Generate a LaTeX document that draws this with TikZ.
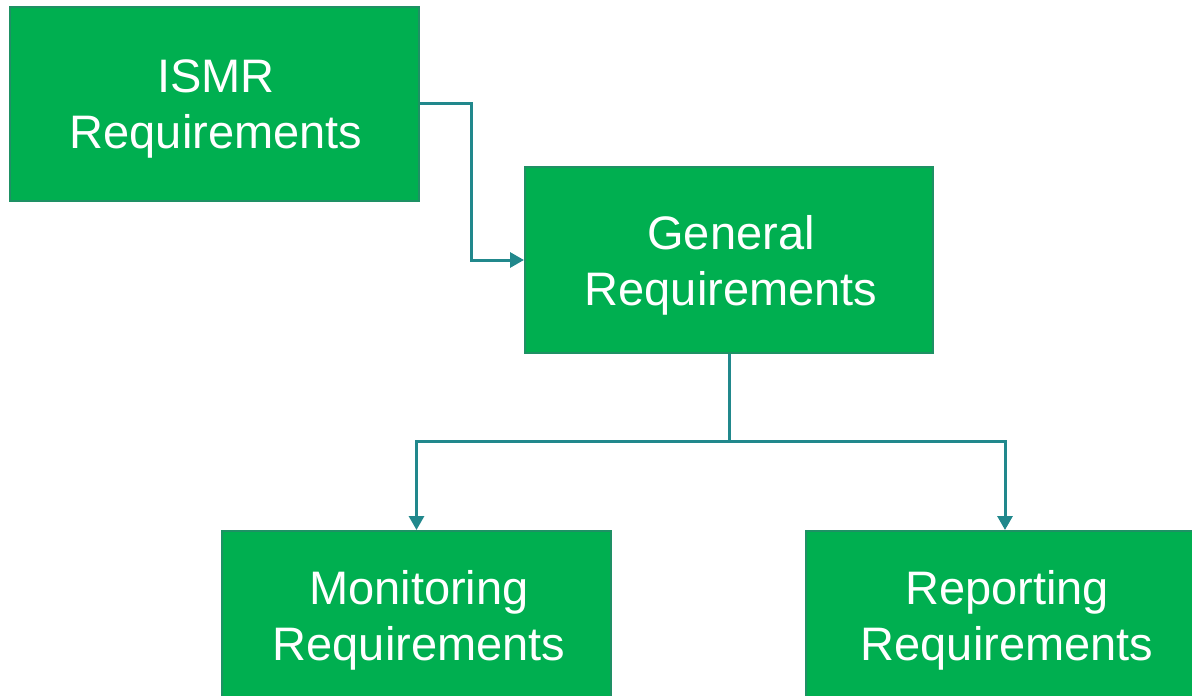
\documentclass[tikz,border=0pt]{standalone}
\usepackage{fontspec}
\setmainfont{Liberation Sans}
\usetikzlibrary{arrows.meta}
\definecolor{boxfill}{HTML}{00AF50}
\definecolor{boxline}{HTML}{1E9164}
\definecolor{linkcol}{HTML}{21888C}
\begin{document}
\begin{tikzpicture}[x=1pt,y=-1pt,
  reqbox/.style={draw=boxline, line width=2pt, fill=boxfill, inner sep=0pt},
  reqtext/.style={text=white, align=center, inner sep=0pt, anchor=base,
    font=\fontsize{47}{56}\selectfont},
  link/.style={draw=linkcol, line width=3pt,
    -{Triangle[length=14pt,width=15pt]}}]
  \useasboundingbox (0,0) rectangle (1192,696);
  \begin{scope}
    \clip (0,0) rectangle (1192,696);
    % the four requirement boxes
    \node[reqbox, minimum width=409pt, minimum height=194pt] (ismr) at (214.5,104) {};
    \node[reqbox, minimum width=408pt, minimum height=186pt] (gen) at (729,260) {};
    \node[reqbox, minimum width=389pt, minimum height=200pt, anchor=north] (mon) at (416.5,530) {};
    \node[reqbox, minimum width=398pt, minimum height=200pt, anchor=north] (rep) at (1005,530) {};
    % their labels (base = baseline of the last line)
    \node[reqtext] (ismrl) at (216,148) {ISMR\\Requirements};
    \node[reqtext] (genl) at (731,305) {General\\Requirements};
    \node[reqtext] (monl) at (419,660) {Monitoring\\Requirements};
    \node[reqtext] (repl) at (1007,660) {Reporting\\Requirements};
  \end{scope}
  % connectors
  \coordinate (split) at (729,441);
  \draw[link] (ismr.east |- 0,103) -| (471,260) -- (gen.west);
  \draw[draw=linkcol, line width=3pt] (gen.south) -- (split);
  \draw[link] (split) -| (mon.north);
  \draw[link] (split) -| (rep.north);
\end{tikzpicture}
\end{document}
